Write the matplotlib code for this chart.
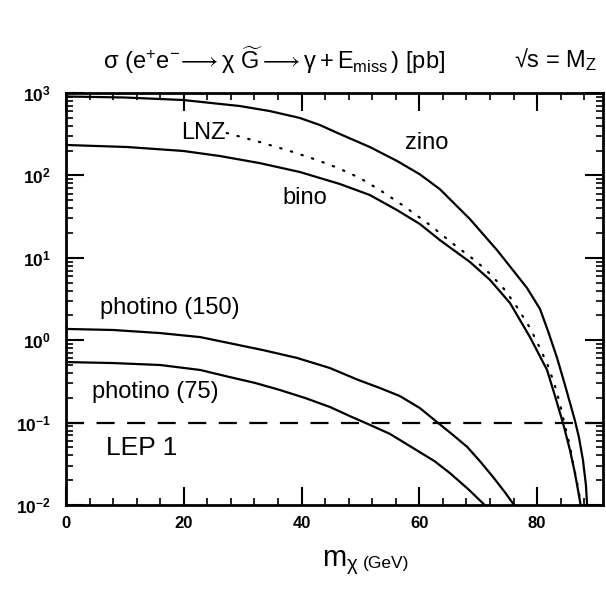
import matplotlib
matplotlib.use("Agg")
import matplotlib.pyplot as plt
from matplotlib.ticker import MultipleLocator, LogLocator, NullFormatter

# -----------------------------
# 데이터
# -----------------------------
zino_x = [0, 10.0, 19.9, 29.5, 34.6, 39.7, 43.1, 46.5, 51.6, 56.2, 60.1, 63.5, 68.6, 73.2,
          76.7, 78.3, 80.5, 81.8, 83.4, 84.6, 85.6, 86.4, 87.1, 87.8, 88.3, 88.5]
zino_y = [907, 882, 822, 695, 604, 498, 409, 318, 221, 150, 103, 68, 29.5, 12.4,
          6.0, 4.3, 2.39, 1.33, 0.61, 0.31, 0.173, 0.108, 0.067, 0.035, 0.0175, 0.01]

bino_x = [0, 10.4, 19.9, 26.1, 32.9, 39.7, 46.5, 51.6, 56.2, 60.1, 63.5, 68.6, 72.0,
          75.4, 78.8, 81.7, 83.0, 84.4, 85.6, 86.4, 86.9, 87.4]
bino_y = [234, 221, 198, 172, 141, 110, 78.7, 57.8, 38, 25.7, 16.4, 8.9, 5.4,
          2.83, 1.09, 0.435, 0.216, 0.099, 0.046, 0.025, 0.016, 0.01]

lnz_x = [27.3, 32.9, 38.0, 42.6, 46.2, 49.9, 53.3, 57.6, 61.8, 66.0, 69.8, 72.0, 74.5,
         76.7, 78.8, 80.5, 81.8, 83.0, 83.9, 84.7, 85.6, 86.2, 86.9, 87.5]
lnz_y = [327, 254, 198, 154, 123, 93, 66.5, 41.4, 25, 14.3, 8.9, 6.4, 4.1,
         2.46, 1.41, 0.80, 0.50, 0.286, 0.168, 0.094, 0.051, 0.030, 0.017, 0.01]

ph150_x = [0, 8.0, 16.0, 22.8, 27.8, 33.4, 39.2, 44.8, 49.6, 53.3, 56.7, 60.1, 63.2,
           65.7, 68.1, 70.3, 72.5, 74.5, 76.1]
ph150_y = [1.37, 1.33, 1.22, 1.09, 0.92, 0.76, 0.61, 0.46, 0.33, 0.263, 0.21, 0.150, 0.099,
           0.071, 0.051, 0.034, 0.022, 0.0144, 0.01]

ph75_x = [0, 8.0, 16.0, 22.8, 27.8, 32.1, 36.3, 40.6, 44.8, 48.2, 51.3, 55.0, 59.6,
          62.6, 65.2, 68.3, 71.1]
ph75_y = [0.543, 0.528, 0.50, 0.435, 0.357, 0.303, 0.249, 0.199, 0.155, 0.120, 0.096, 0.073, 0.046,
          0.034, 0.0244, 0.0156, 0.01]

lep_limit = 0.1

xtick_vals = [0, 20, 40, 60, 80]
xtick_labels = ["0", "20", "40", "60", "80"]
ytick_vals = [1e-2, 1e-1, 1e0, 1e1, 1e2, 1e3]
ytick_labels = [r"$\mathbf{10^{-2}}$", r"$\mathbf{10^{-1}}$", r"$\mathbf{10^{0}}$",
                r"$\mathbf{10^{1}}$", r"$\mathbf{10^{2}}$", r"$\mathbf{10^{3}}$"]

# -----------------------------
# 스타일
# -----------------------------
plt.rcParams['font.family'] = ['Liberation Sans', 'DejaVu Sans']
plt.rcParams['mathtext.fontset'] = 'custom'
plt.rcParams['mathtext.rm'] = 'Liberation Sans'
plt.rcParams['mathtext.it'] = 'Liberation Sans:italic'
plt.rcParams['mathtext.bf'] = 'Liberation Sans:bold'
plt.rcParams['lines.scale_dashes'] = False

fig = plt.figure(figsize=(6.06, 5.90), dpi=100)
ax = fig.add_axes([66 / 606, 1 - 505 / 590, (603 - 66) / 606, (505 - 93) / 590])

lw = 1.6
ax.plot(zino_x, zino_y, color='black', lw=lw)
ax.plot(bino_x, bino_y, color='black', lw=lw)
ax.plot(lnz_x, lnz_y, color='black', lw=1.6, linestyle=(0, (1.0, 7.0)), dash_capstyle='round')
ax.plot(ph150_x, ph150_y, color='black', lw=lw)
ax.plot(ph75_x, ph75_y, color='black', lw=lw)
ax.axhline(lep_limit, color='black', lw=lw, linestyle=(0, (13, 9)))

ax.set_yscale('log')
ax.set_xlim(0, 91.2)
ax.set_ylim(1e-2, 1e3)

ax.set_xticks(xtick_vals)
ax.set_xticklabels(xtick_labels, fontweight='bold', fontsize=12)
ax.xaxis.set_minor_locator(MultipleLocator(4))
ax.set_yticks(ytick_vals)
ax.set_yticklabels(ytick_labels, fontsize=12.5)
ax.yaxis.set_minor_locator(LogLocator(base=10, subs=range(2, 10), numticks=20))
ax.yaxis.set_minor_formatter(NullFormatter())

ax.tick_params(which='both', direction='in', top=True, right=True)
ax.tick_params(which='major', length=13, width=1.5, pad=8)
ax.tick_params(which='minor', length=5, width=1.2)
ax.tick_params(axis='y', which='major', pad=11)
for sp in ax.spines.values():
    sp.set_linewidth(2)

# 곡선 이름
ax.text(23.3, 10 ** 2.52, "LNZ", fontsize=17, ha='center', va='center')
ax.text(61.3, 10 ** 2.39, "zino", fontsize=17, ha='center', va='center')
ax.text(40.6, 10 ** 1.726, "bino", fontsize=17, ha='center', va='center')
ax.text(17.7, 10 ** 0.39, "photino (150)", fontsize=17, ha='center', va='center')
ax.text(15.1, 10 ** -0.63, "photino (75)", fontsize=17, ha='center', va='center')
ax.text(12.9, 10 ** -1.31, "LEP 1", fontsize=19, ha='center', va='center')

# 제목
fig.text(103 / 606, 1 - 60 / 590,
         r"$\mathrm{\sigma}\ (\mathrm{e}^{+}\mathrm{e}^{-}\!\longrightarrow \mathrm{\chi}\ \widetilde{\mathrm{G}}"
         r" \longrightarrow \mathrm{\gamma} + \mathrm{E}_{\mathrm{miss}}\,)$ [pb]",
         fontsize=17, ha='left', va='center')
fig.text(597 / 606, 1 - 60 / 590, "√s = M$_{\\mathrm{Z}}$", fontsize=17, ha='right', va='center')

# x축 이름
fig.text(322 / 606, 1 - 566 / 590, r"$\mathrm{m}_{\mathrm{\chi}}$", fontsize=21, ha='left', va='baseline')
fig.text(363 / 606, 1 - 568 / 590, "(GeV)", fontsize=12.5, ha='left', va='baseline')

fig.savefig('out.png', dpi=100)
plt.close(fig)
